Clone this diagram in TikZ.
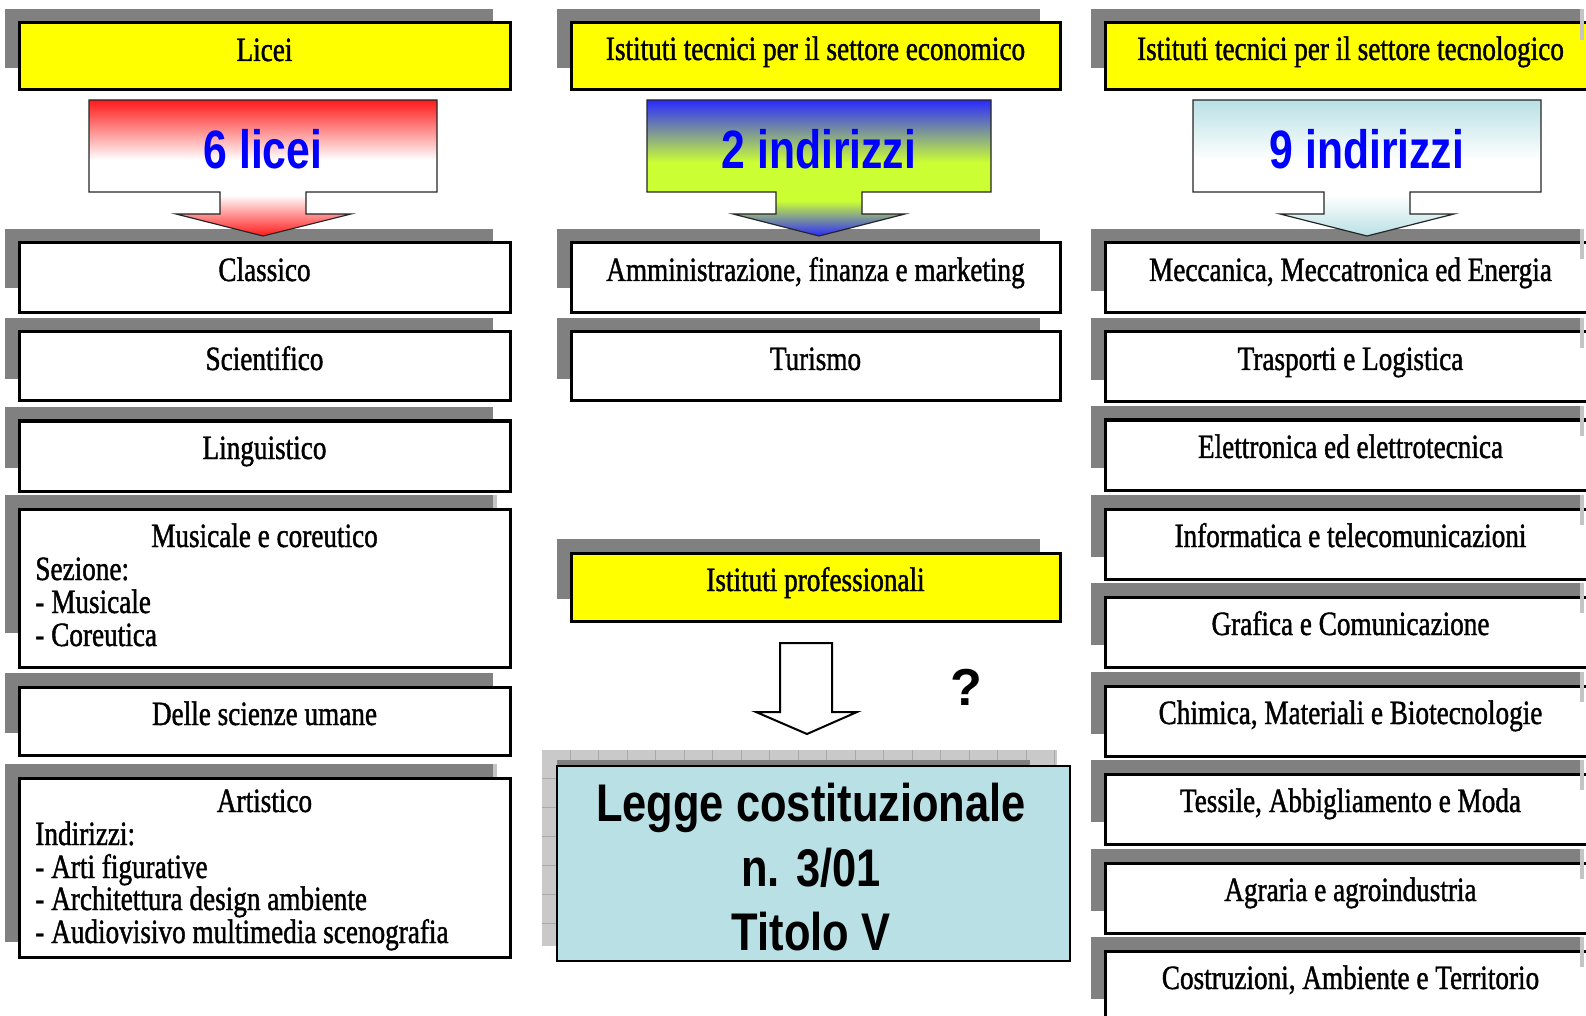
\documentclass[tikz,border=0pt]{standalone}
\usepackage{fontspec}
\setmainfont{Liberation Serif}[FakeStretch=0.8, FakeBold=1.2]
\newfontfamily\sansnarrow{Liberation Sans}[FakeStretch=0.79]
\newfontfamily\legfam{Liberation Sans}[FakeStretch=0.82]
\newfontfamily\qfam{Liberation Sans}
\usetikzlibrary{fit,calc}
\definecolor{shadowgray}{HTML}{808080}
\definecolor{stripgray}{HTML}{C4C4C4}
\definecolor{headyellow}{HTML}{FFFF00}
\definecolor{numblue}{HTML}{0000FF}
\definecolor{arrred}{HTML}{FF1A1A}
\definecolor{arrblue}{HTML}{2A2AFF}
\definecolor{arrlime}{HTML}{CCFF33}
\definecolor{arrcyan}{HTML}{B8E0E4}
\definecolor{legcyan}{HTML}{B9E0E5}
\definecolor{texgray}{HTML}{C9C9C9}
\definecolor{gridgray}{HTML}{A9A9A9}
\pgfdeclareverticalshading{redarrow}{100bp}{color(0bp)=(arrred); color(25bp)=(arrred); color(40bp)=(white); color(53bp)=(white); color(75bp)=(arrred); color(100bp)=(arrred)}
\pgfdeclareverticalshading{bluearrow}{100bp}{color(0bp)=(arrblue); color(25bp)=(arrblue); color(38bp)=(arrlime); color(52bp)=(arrlime); color(75bp)=(arrblue); color(100bp)=(arrblue)}
\pgfdeclareverticalshading{cyanarrow}{100bp}{color(0bp)=(arrcyan); color(25bp)=(arrcyan); color(40bp)=(white); color(53bp)=(white); color(75bp)=(arrcyan); color(100bp)=(arrcyan)}
\newcommand{\boxtxt}{\fontsize{17pt}{17pt}\selectfont}
\newcommand{\bigtxtfont}{\sansnarrow\bfseries\fontsize{27pt}{27pt}\selectfont}
\newcommand{\legtxtfont}{\legfam\bfseries\fontsize{26.5pt}{26.5pt}\selectfont}
% #1 style, #2 name, #3 x1, #4 y1, #5 x2, #6 y2, #7 shadow x2, #8 shadow y2
\newcommand{\rowbox}[8][boxst]{%
  \fill[shadowgray] (#3-14,#4-14) rectangle (#7,#8);
  \node[#1, fit={(#3,#4) (#5,#6)}] (#2) {};
}
\newcommand{\shstrip}[3]{\fill[stripgray] (#1,#2) rectangle (#1+4,#3);}
\begin{document}
\begin{tikzpicture}[x=0.5pt, y=-0.5pt,
  boxst/.style={draw=black, line width=1.5pt, fill=white, inner sep=0pt, outer sep=0pt},
  hdrbox/.style={boxst, fill=headyellow},
  legbox/.style={draw=black, line width=0.75pt, fill=legcyan, inner sep=0pt, outer sep=0pt},
  lbl/.style={font=\boxtxt, anchor=base, inner sep=0pt},
  lbll/.style={lbl, anchor=base west},
  bigtxt/.style={font=\bigtxtfont, text=numblue, anchor=base, inner sep=0pt},
  legtxt/.style={font=\legtxtfont, anchor=base, inner sep=0pt},
  blockarrow/.style={draw=black!85, line width=0.6pt},
]
\useasboundingbox (0,0) rectangle (1586,1016);
\clip (0,0) rectangle (1586,1016);
\fill[white] (0,0) rectangle (1586,1016);

% ---------------- left column ----------------
\rowbox[hdrbox]{licei}{19}{23}{510}{90}{493}{68}
\node[lbl] (licei-t) at ($(licei.north)+(0,38)$) {Licei};

\rowbox{classico}{19}{243}{510}{313}{493}{288}
\node[lbl] (classico-t) at ($(classico.north)+(0,38)$) {Classico};
\rowbox{scient}{19}{332}{510}{401}{493}{379}
\node[lbl] (scient-t) at ($(scient.north)+(0,38)$) {Scientifico};
\rowbox{lingu}{19}{421}{510}{491}{493}{468}
\node[lbl] (lingu-t) at ($(lingu.north)+(0,38)$) {Linguistico};
\shstrip{493}{495}{560}
\rowbox{music}{19}{509}{510}{667}{493}{633}
\node[lbl] (music-t) at ($(music.north)+(0,38)$) {Musicale e coreutico};
\node[lbll] (music-a) at (35,580) {Sezione:};
\node[lbll] (music-b) at (35,613) {- Musicale};
\node[lbll] (music-c) at (35,646) {- Coreutica};
\rowbox{umane}{19}{687}{510}{755}{493}{733}
\node[lbl] (umane-t) at ($(umane.north)+(0,38)$) {Delle scienze umane};
\shstrip{493}{764}{830}
\rowbox{artist}{19}{778}{510}{957}{493}{942}
\node[lbl] (artist-t) at (264.5,812) {Artistico};
\node[lbll] (artist-a) at (35,845) {Indirizzi:};
\node[lbll] (artist-b) at (35,878) {- Arti figurative};
\node[lbll] (artist-c) at (35,910) {- Architettura design ambiente};
\node[lbll] (artist-d) at (35,943) {- Audiovisivo multimedia scenografia};

% ---------------- middle column ----------------
\rowbox[hdrbox]{econ}{571}{23}{1060}{90}{1040}{68}
\node[lbl] (econ-t) at ($(econ.north)+(0,37)$) {Istituti tecnici per il settore economico};

\rowbox{amm}{571}{243}{1060}{313}{1040}{288}
\node[lbl] (amm-t) at ($(amm.north)+(0,38)$) {Amministrazione, finanza e marketing};
\rowbox{turismo}{571}{332}{1060}{401}{1040}{379}
\node[lbl] (turismo-t) at ($(turismo.north)+(0,38)$) {Turismo};

\rowbox[hdrbox]{prof}{571}{553}{1060}{621}{1040}{599}
\node[lbl] (prof-t) at ($(prof.north)+(0,38)$) {Istituti professionali};

\draw[line width=1pt, fill=white] (780,643) -- (832,643) -- (832,712) -- (857,712) -- (807,734) -- (756,712) -- (780,712) -- cycle;
\node[font=\qfam\bfseries\fontsize{26pt}{26pt}\selectfont, anchor=base, inner sep=0pt] (qmark) at (966,705) {?};

% Legge box with textured background
\fill[texgray] (542,750) rectangle (1057,946);
\foreach \xx in {570,598.5,...,1057} \draw[gridgray, line width=0.5pt] (\xx,750) -- (\xx,946);
\foreach \yy in {778,807,...,946} \draw[gridgray, line width=0.5pt] (542,\yy) -- (1057,\yy);
\fill[shadowgray] (557,760) rectangle (1030,766);
\node[legbox, fit={(557,766) (1070,961)}] (legge) {};
\node[legtxt] (legge-a) at (811,821) {Legge costituzionale};
\node[legtxt] (legge-b) at (811,886) {n. 3/01};
\node[legtxt] (legge-c) at (811,950) {Titolo V};

% ---------------- right column ----------------
\rowbox[hdrbox]{tecno}{1105}{23}{1596}{90}{1580}{68}
\shstrip{1580}{9}{40}
\node[lbl] (tecno-t) at ($(tecno.north)+(0,37)$) {Istituti tecnici per il settore tecnologico};

\foreach \nm/\tp/\tx in {mecc/243/{Meccanica, Meccatronica ed Energia},
                         trasp/332/{Trasporti e Logistica},
                         elet/420/{Elettronica ed elettrotecnica},
                         info/509/{Informatica e telecomunicazioni},
                         graf/597/{Grafica e Comunicazione},
                         chim/686/{Chimica, Materiali e Biotecnologie},
                         tess/774/{Tessile, Abbigliamento e Moda},
                         agra/863/{Agraria e agroindustria},
                         costr/951/{Costruzioni, Ambiente e Territorio}}{
  \rowbox{\nm}{1105}{\tp}{1596}{\tp+70}{1580}{\tp+48}
  \shstrip{1580}{\tp-14}{\tp+16}
  \node[lbl] (\nm-t) at ($(\nm.north)+(0,38)$) {\tx};
}

% ---------------- block arrows (drawn over the row shadows) ----------------
\shade[shading=redarrow, blockarrow] (89,100) -- (437,100) -- (437,192) -- (306,192) -- (306,214) -- (351,214) -- (263,236) -- (176,214) -- (220,214) -- (220,192) -- (89,192) -- cycle;
\node[bigtxt] (n6) at (263,169) {6 licei};
\shade[shading=bluearrow, blockarrow] (647,100) -- (991,100) -- (991,192) -- (862,192) -- (862,214) -- (905,214) -- (819,236) -- (733,214) -- (776,214) -- (776,192) -- (647,192) -- cycle;
\node[bigtxt] (n2) at (819,169) {2 indirizzi};
\shade[shading=cyanarrow, blockarrow] (1193,100) -- (1541,100) -- (1541,192) -- (1410,192) -- (1410,214) -- (1454,214) -- (1367,236) -- (1280,214) -- (1324,214) -- (1324,192) -- (1193,192) -- cycle;
\node[bigtxt] (n9) at (1367,169) {9 indirizzi};
\end{tikzpicture}
\end{document}
